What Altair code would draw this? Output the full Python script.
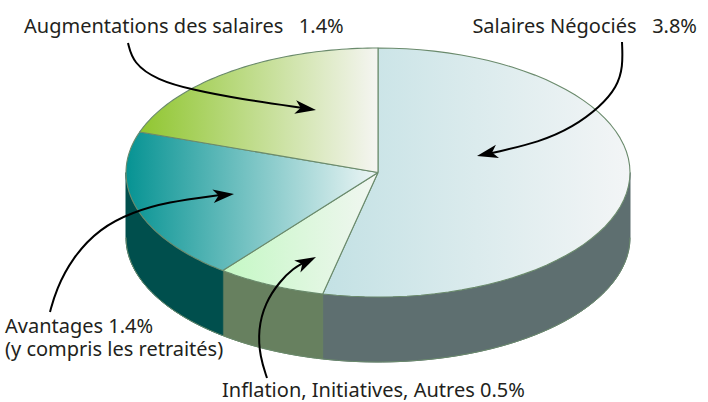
import altair as alt
import pandas as pd

# ---- data ----
categories = ["Salaires Négociés", "Inflation, Initiatives, Autres", "Avantages", "Augmentations des salaires"]
values = [3.8, 0.5, 1.4, 1.4]
NB = "\u00a0"
label_sep = [NB * 3, " ", " ", NB * 3]
extra_note = "(y compris les retraités)"

df = pd.DataFrame({"cat": categories, "value": values, "order": list(range(len(categories)))})

# ---- layout constants ----
W, H = 708, 402
CX, CY, RX, RY, DEPTH = 378, 172.5, 252, 124.5, 65
N = 60
FONT = "Noto Sans"
OUTLINE = "#6a8a6c"

xs = alt.Scale(domain=[0, W], nice=False, zero=False)
ys = alt.Scale(domain=[H, 0], nice=False, zero=False)

top_fill = {
    "Salaires Négociés": ["#c3e1e4", "#f3f5f6"],
    "Inflation, Initiatives, Autres": ["#c4f8c4", "#f2f6f2"],
    "Avantages": ["#069393", "#eef6f6"],
    "Augmentations des salaires": ["#90c630", "#f5f5f2"],
}
side_fill = {
    "Salaires Négociés": "#5e6f70",
    "Inflation, Initiatives, Autres": "#67805f",
    "Avantages": "#004f4d",
}

base = (
    alt.Chart(df)
    .transform_joinaggregate(total="sum(value)")
    .transform_window(cum="sum(value)", sort=[alt.SortField("order")], frame=[None, 0])
    .transform_calculate(a1="2*PI*(datum.cum - datum.value)/datum.total")
    .transform_calculate(a2="2*PI*datum.cum/datum.total")
)

enc = dict(
    x=alt.X("px:Q", scale=xs, axis=None),
    y=alt.Y("py:Q", scale=ys, axis=None),
    order=alt.Order("s:Q"),
)


def grad(c0, c1):
    return {
        "gradient": "linear",
        "x1": 0, "y1": 0, "x2": 1, "y2": 0,
        "stops": [{"offset": 0, "color": c0}, {"offset": 1, "color": c1}],
    }


def top_layer(cat):
    c0, c1 = top_fill[cat]
    return (
        base.transform_filter(alt.datum.cat == cat)
        .transform_calculate(steps=f"sequence(0, {N + 3})")
        .transform_flatten(["steps"], as_=["s"])
        .transform_calculate(th=f"datum.a1 + (datum.a2 - datum.a1) * (datum.s - 1) / {N}")
        .transform_calculate(ctr=f"datum.s == 0 || datum.s == {N + 2}")
        .transform_calculate(px=f"datum.ctr ? {CX} : {CX} + {RX} * sin(datum.th)")
        .transform_calculate(py=f"datum.ctr ? {CY} : {CY} - {RY} * cos(datum.th)")
        .mark_line(fill=grad(c0, c1), stroke=OUTLINE, strokeWidth=1.1, strokeJoin="round")
        .encode(**enc)
    )


def side_layer(cat):
    col = side_fill[cat]
    return (
        base.transform_filter(alt.datum.cat == cat)
        .transform_calculate(b1="max(datum.a1, PI/2)")
        .transform_calculate(b2="min(datum.a2, 3*PI/2)")
        .transform_filter("datum.b2 > datum.b1")
        .transform_calculate(steps=f"sequence(0, {2 * N + 3})")
        .transform_flatten(["steps"], as_=["s"])
        .transform_calculate(
            th=f"datum.s <= {N} ? datum.b1 + (datum.b2 - datum.b1) * datum.s / {N} : "
               f"(datum.s <= {2 * N + 1} ? datum.b2 - (datum.b2 - datum.b1) * (datum.s - {N + 1}) / {N} : datum.b1)"
        )
        .transform_calculate(dy=f"(datum.s > {N} && datum.s <= {2 * N + 1}) ? {DEPTH} : 0")
        .transform_calculate(px=f"{CX} + {RX} * sin(datum.th)")
        .transform_calculate(py=f"{CY} - {RY} * cos(datum.th) + datum.dy")
        .mark_line(fill=col, stroke=col, strokeWidth=1)
        .encode(**enc)
    )


# outline of the bottom rim
rim = (
    alt.Chart(pd.DataFrame({"k": [0]}))
    .transform_calculate(steps=f"sequence(0, {N + 1})")
    .transform_flatten(["steps"], as_=["s"])
    .transform_calculate(th=f"PI/2 + PI * datum.s / {N}")
    .transform_calculate(px=f"{CX} + {RX} * sin(datum.th)")
    .transform_calculate(py=f"{CY} - {RY} * cos(datum.th) + {DEPTH}")
    .mark_line(stroke=OUTLINE, strokeWidth=1)
    .encode(**enc)
)

sides = [side_layer(c) for c in categories if c in side_fill]
tops = [top_layer(c) for c in categories]

# ---- annotations (arrow paths) ----
arrow_pts = pd.DataFrame({
    "arrow": [0] * 6 + [1] * 7 + [2] * 7 + [3] * 7,
    "i": list(range(6)) + list(range(7)) + list(range(7)) + list(range(7)),
    "ax": [128, 133, 157, 193, 240, 303,
           622, 623, 617, 600, 573, 540, 492,
           50, 56, 72, 100, 133, 167, 220,
           267, 260, 258, 265, 280, 294, 303],
    "ay": [43, 63, 80, 90, 99, 108,
           42, 67, 87, 107, 127, 142, 153,
           312, 290, 258, 228, 212, 202, 195,
           378, 357, 330, 303, 281, 268, 263],
})
heads = pd.DataFrame({
    "ax": [316, 477, 234, 316],
    "ay": [110, 156, 194, 257],
    "ang": [8, 167, 354, 333],
})
ARROWHEAD = "M0,0 L-2.1,-0.68 L-1.55,0 L-2.1,0.68 Z"

arrow_lines = (
    alt.Chart(arrow_pts)
    .mark_line(color="black", strokeWidth=2, interpolate="basis", strokeCap="butt")
    .encode(
        x=alt.X("ax:Q", scale=xs, axis=None),
        y=alt.Y("ay:Q", scale=ys, axis=None),
        detail="arrow:N",
        order="i:Q",
    )
)
arrow_heads = (
    alt.Chart(heads)
    .mark_point(shape=ARROWHEAD, filled=True, color="black", size=400, opacity=1, strokeWidth=0)
    .encode(
        x=alt.X("ax:Q", scale=xs, axis=None),
        y=alt.Y("ay:Q", scale=ys, axis=None),
        angle=alt.Angle("ang:Q", scale=None),
    )
)

# ---- labels built from the data ----
labels = [c + s + f"{v}%" for c, s, v in zip(categories, label_sep, values)] + [extra_note]
lab_df = pd.DataFrame({
    "label": labels,
    "lx": [697, 222, 5, 24, 5],
    "ly": [33, 397, 333, 33, 356],
    "al": ["right", "left", "left", "left", "left"],
})


def text_layer(align):
    return (
        alt.Chart(lab_df)
        .transform_filter(alt.datum.al == align)
        .mark_text(align=align, baseline="alphabetic", font=FONT, fontSize=20, color="#231f20")
        .encode(
            x=alt.X("lx:Q", scale=xs, axis=None),
            y=alt.Y("ly:Q", scale=ys, axis=None),
            text="label:N",
        )
    )


chart = (
    alt.layer(*sides, rim, *tops, arrow_lines, arrow_heads, text_layer("left"), text_layer("right"))
    .properties(width=W, height=H, padding=0, autosize="none", background="white")
    .configure_view(stroke=None)
)

chart.save("out.html", embed_options={"renderer": "svg", "actions": False})
